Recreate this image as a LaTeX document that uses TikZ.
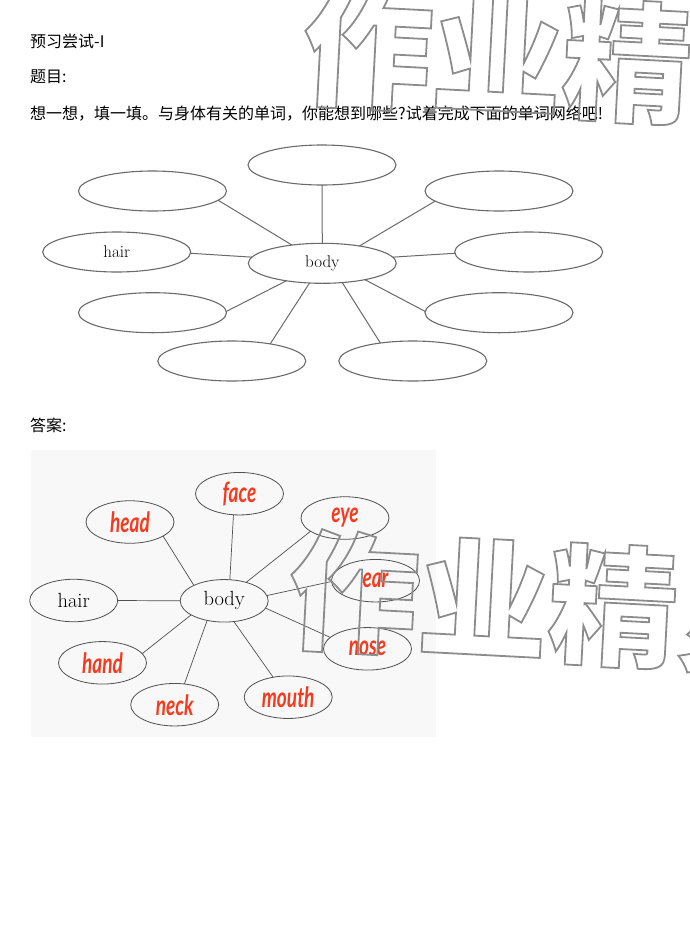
\documentclass[tikz,border=0pt]{standalone}
\usepackage{fontspec}
\usetikzlibrary{shapes.geometric}
\newfontfamily\cjk{Noto Sans CJK SC}
\newfontfamily\hand{Lato}
\definecolor{qline}{HTML}{6A6A6A}
\definecolor{aline}{HTML}{505050}
\definecolor{ansred}{HTML}{F53A1E}
\definecolor{bgc}{HTML}{F8F8F8}
\definecolor{wmgray}{HTML}{8C8C8C}
\newcommand{\outl}[1]{\special{pdf:literal direct 1 Tr 1.8 w}#1\special{pdf:literal direct 0 Tr}}
\newcommand{\hw}[1]{\scalebox{0.68}[1]{#1}}
\begin{document}
\begin{tikzpicture}[x=1pt,y=-1pt,
  qe/.style={draw=qline, line width=1.1pt, ellipse, minimum width=148pt, minimum height=40pt, inner sep=0pt, outer sep=0pt},
  ae/.style={draw=aline, line width=0.8pt, ellipse, minimum width=88pt, minimum height=42.5pt, inner sep=0pt, outer sep=0pt},
  qc/.style={draw=qline, line width=1pt},
  ac/.style={draw=aline, line width=0.7pt},
  qlab/.style={font=\fontsize{17}{17}\selectfont, text=black},
  alab/.style={font=\fontsize{20.5}{20.5}\selectfont, text=black},
  ans/.style={text=ansred, font=\hand\bfseries\itshape\fontsize{28}{28}\selectfont},
  head/.style={anchor=base west, inner sep=0pt, font=\cjk\fontsize{16}{16}\selectfont},
  wm/.style={anchor=base west, inner sep=0pt, rotate=-3, text=wmgray, font=\cjk\bfseries\fontsize{130}{130}\selectfont}]
\useasboundingbox (0,0) rectangle (690,951);
\fill[white] (0,0) rectangle (690,951);
% headings
\node[head] (t1) at (30,47) {预习尝试-I};
\node[head] (t2) at (30,82) {题目:};
\node[head] (t3) at (30,119) {想一想，填一填。与身体有关的单词，你能想到哪些?试着完成下面的单词网络吧!};
\node[head] (t4) at (30,431) {答案:};
% question diagram
\node[qe] (qbody) at (322.3,263.3) {};
\node[qlab] at (qbody) {body};
\node[qe] (qtop) at (322,165) {};
\node[qe] (qul) at (152.5,191) {};
\node[qe] (qur) at (499,191) {};
\node[qe] (qhair) at (116.7,252) {};
\node[qlab] at (qhair) {hair};
\node[qe] (qr) at (528.7,252) {};
\node[qe] (qll) at (152.5,312.7) {};
\node[qe] (qlr) at (499,312.7) {};
\node[qe] (qbl) at (231.8,361) {};
\node[qe] (qbr) at (412.8,361) {};
\draw[qc] (qbody.149) -- (qul.352);
\draw[qc] (qbody.90) -- (qtop.270);
\draw[qc] (qbody.25) -- (qur.189);
\draw[qc] (qbody.175) -- (qhair.359);
\draw[qc] (qbody.5) -- (qr.181);
\draw[qc] (qbody.206) -- (qll.1.5);
\draw[qc] (qbody.237) -- (qbl.24);
\draw[qc] (qbody.316) -- (qbr.151);
\draw[qc] (qbody.339) -- (qlr.179);
% answer diagram
\fill[bgc] (31,450) rectangle (436,737);
\node[ae] (abody) at (224.2,600.8) {};
\node[alab] at (abody) {body};
\node[ae] (ahair) at (73.7,600.5) {};
\node[alab] at (ahair) {hair};
\node[ae] (face) at (239.5,493.7) {};
\node[ae] (head) at (130,522) {};
\node[ae] (eye) at (345,518) {};
\node[ae] (ear) at (375.5,580.7) {};
\node[ae] (hand) at (102.5,662.8) {};
\node[ae] (nose) at (367.5,648.8) {};
\node[ae] (neck) at (174.7,704.7) {};
\node[ae] (mouth) at (288.2,697.2) {};
\node[ans] at (face) {\hw{face}};
\node[ans] at (head) {\hw{head}};
\node[ans] at (eye) {\hw{eye}};
\node[ans] at (ear) {\hw{ear}};
\node[ans] at (hand) {\hw{hand}};
\node[ans] at (nose) {\hw{nose}};
\node[ans] at (neck) {\hw{neck}};
\node[ans] at (mouth) {\hw{mouth}};
\draw[ac] (abody.153) -- (head.337);
\draw[ac] (abody.75) -- (face.254);
\draw[ac] (abody.40) -- (eye.201);
\draw[ac] (abody.180) -- (ahair.0);
\draw[ac] (abody.7) -- (ear.181);
\draw[ac] (abody.350) -- (nose.163);
\draw[ac] (abody.203) -- (hand.13);
\draw[ac] (abody.229) -- (neck.65);
\draw[ac] (abody.295) -- (mouth.127);
% watermarks
\begin{scope}
\clip (0,0) rectangle (690,951);
\node[wm] (wm1) at (300,94) {\outl{作业精灵}};
\node[wm] (wm2) at (286,638) {\outl{作业精灵}};
\end{scope}
\end{tikzpicture}
\end{document}
